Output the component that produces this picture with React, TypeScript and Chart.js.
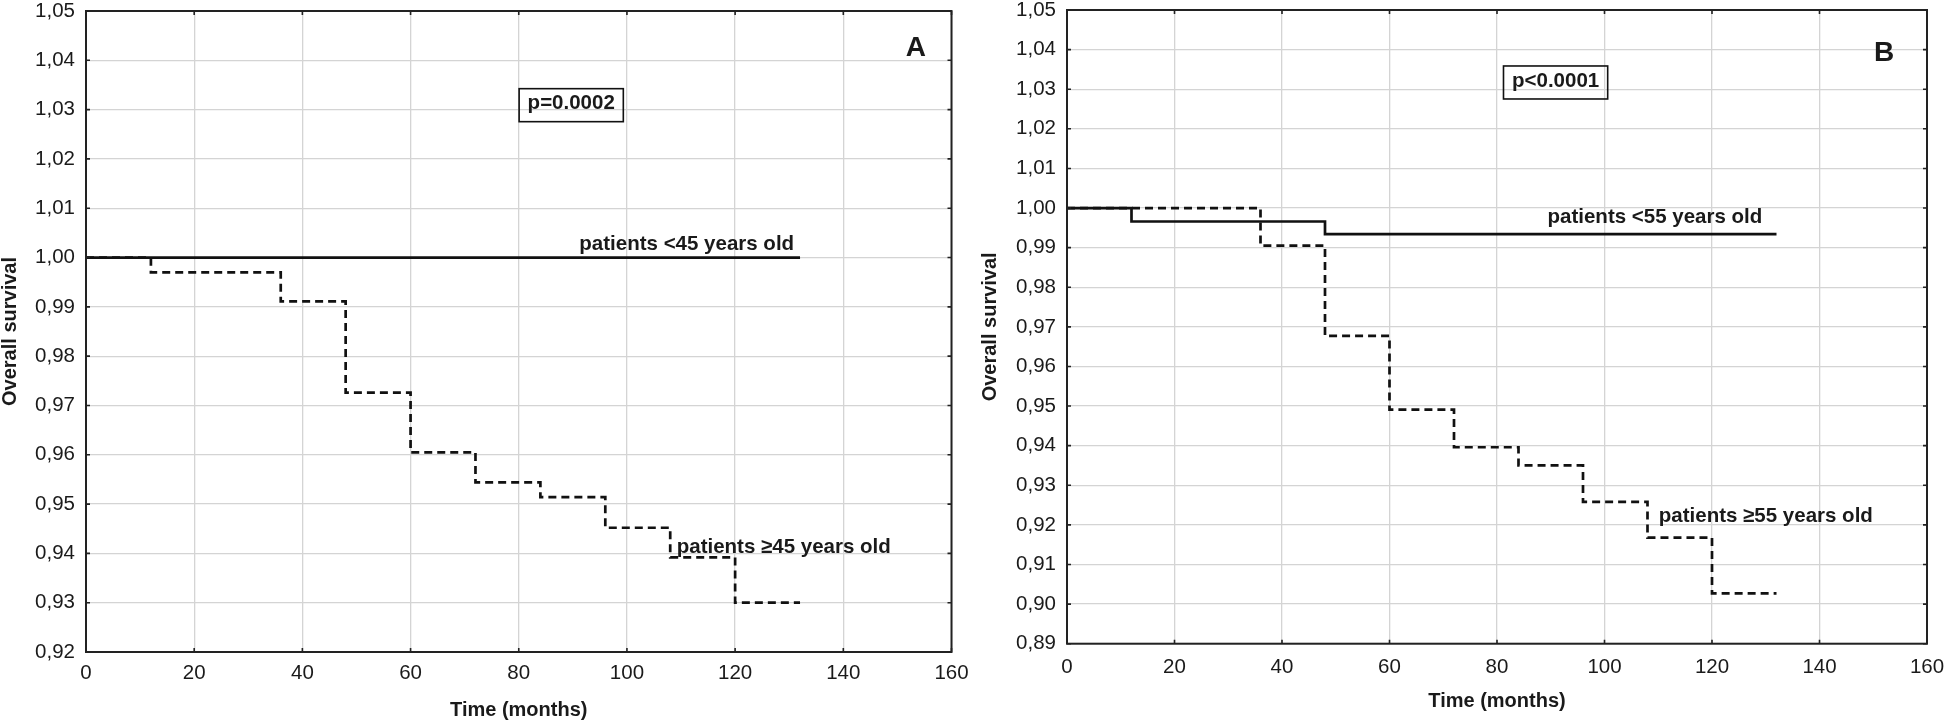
import React, { useEffect, useRef } from 'react';
import { Chart, registerables } from 'chart.js';

Chart.register(...registerables);

// ---------- data ----------
const xTickValues = [0, 20, 40, 60, 80, 100, 120, 140, 160];
const yTickValuesA = [0.92, 0.93, 0.94, 0.95, 0.96, 0.97, 0.98, 0.99, 1.0, 1.01, 1.02, 1.03, 1.04, 1.05];
const yTickValuesB = [0.89, 0.9, 0.91, 0.92, 0.93, 0.94, 0.95, 0.96, 0.97, 0.98, 0.99, 1.0, 1.01, 1.02, 1.03, 1.04, 1.05];

// Panel A: <45 vs >=45 years
const monthsAYoung = [0, 132];
const survAYoung = [1.0, 1.0];
const monthsAOld = [0, 12, 36, 48, 60, 72, 84, 96, 108, 120, 132];
const survAOld = [1.0, 0.997, 0.9911, 0.9726, 0.9605, 0.9544, 0.9514, 0.9452, 0.9392, 0.93, 0.93];

// Panel B: <55 vs >=55 years
const monthsBYoung = [0, 12, 48, 132];
const survBYoung = [1.0, 0.9966, 0.9934, 0.9934];
const monthsBOld = [0, 36, 48, 60, 72, 84, 96, 108, 120, 132];
const survBOld = [1.0, 0.9905, 0.9677, 0.9491, 0.9396, 0.935, 0.9258, 0.9168, 0.9027, 0.9027];

const labelsA = ['patients <45 years old', 'patients \u226545 years old', 'p=0.0002', 'A'];
const labelsB = ['patients <55 years old', 'patients \u226555 years old', 'p<0.0001', 'B'];

const xTitle = 'Time (months)';
const yTitle = 'Overall survival';

const FONT = '"Liberation Sans", Arial, Helvetica, sans-serif';
const INK = '#1a1a1a';

type Note = { text: string; x: number; y: number; align: CanvasTextAlign; size: number; box?: boolean };

const toPts = (xs: number[], ys: number[]) => xs.map((x, i) => ({ x, y: ys[i] }));

const framePlugin = {
  id: 'frame',
  afterDatasetsDraw(chart: any) {
    const { ctx, chartArea } = chart;
    const { left, right, top, bottom } = chartArea;
    const xs = chart.scales.x;
    const ys = chart.scales.y;
    ctx.save();
    ctx.strokeStyle = '#222';
    ctx.lineWidth = 2;
    ctx.strokeRect(left, top, right - left, bottom - top);
    ctx.lineWidth = 1.6;
    ctx.beginPath();
    xs.ticks.forEach((t: any) => {
      const px = xs.getPixelForValue(t.value);
      ctx.moveTo(px, bottom);
      ctx.lineTo(px, bottom - 4);
      ctx.moveTo(px, top);
      ctx.lineTo(px, top + 4);
    });
    ys.ticks.forEach((t: any) => {
      const py = ys.getPixelForValue(t.value);
      ctx.moveTo(left, py);
      ctx.lineTo(left + 4, py);
      ctx.moveTo(right, py);
      ctx.lineTo(right - 4, py);
    });
    ctx.stroke();
    ctx.restore();
  },
};

const notesPlugin = {
  id: 'notes',
  afterDraw(chart: any, _args: any, opts: any) {
    const items: Note[] = (opts && opts.items) || [];
    const { ctx } = chart;
    const xs = chart.scales.x;
    const ys = chart.scales.y;
    ctx.save();
    items.forEach((n) => {
      const px = xs.getPixelForValue(n.x);
      const py = ys.getPixelForValue(n.y);
      ctx.font = `bold ${n.size}px ${FONT}`;
      ctx.fillStyle = INK;
      ctx.textAlign = n.align;
      if (n.box) {
        const w = ctx.measureText(n.text).width;
        const bw = w + 17;
        const bh = 33;
        ctx.strokeStyle = '#111';
        ctx.lineWidth = 1.6;
        ctx.strokeRect(px - bw / 2, py - bh / 2, bw, bh);
        ctx.textBaseline = 'middle';
        ctx.fillText(n.text, px, py - 1.5);
      } else {
        ctx.textBaseline = n.align === 'center' ? 'middle' : 'alphabetic';
        ctx.fillText(n.text, px, py);
      }
    });
    ctx.restore();
  },
};

type PanelSpec = {
  young: { x: number; y: number }[];
  old: { x: number; y: number }[];
  yMin: number;
  yMax: number;
  yTicks: number[];
  padding: { left: number; top: number; right: number; bottom: number };
  yAxisW: number;
  xAxisH: number;
  xTickPad: number;
  xTitlePad: number;
  notes: Note[];
};

function makeConfig(p: PanelSpec): any {
  return {
    type: 'line',
    data: {
      datasets: [
        {
          data: p.young,
          borderColor: '#111',
          borderWidth: 2.7,
          stepped: 'before',
          pointRadius: 0,
          fill: false,
          borderCapStyle: 'butt',
        },
        {
          data: p.old,
          borderColor: '#111',
          borderWidth: 2.7,
          borderDash: [8, 5],
          stepped: 'before',
          pointRadius: 0,
          fill: false,
          borderCapStyle: 'butt',
        },
      ],
    },
    options: {
      animation: false,
      responsive: false,
      devicePixelRatio: 1,
      layout: { padding: p.padding },
      plugins: {
        legend: { display: false },
        tooltip: { enabled: false },
        notes: { items: p.notes },
      },
      scales: {
        x: {
          type: 'linear',
          min: 0,
          max: 160,
          afterBuildTicks: (s: any) => {
            s.ticks = xTickValues.map((v) => ({ value: v }));
          },
          ticks: {
            font: { family: FONT, size: 20.5 },
            color: INK,
            padding: p.xTickPad,
            maxRotation: 0,
            autoSkip: false,
          },
          grid: { color: '#d4d4d4', lineWidth: 1.3, drawTicks: false },
          border: { display: false },
          title: {
            display: true,
            text: xTitle,
            font: { family: FONT, size: 20, weight: 'bold', lineHeight: 1 },
            color: INK,
            padding: { top: 0, bottom: p.xTitlePad },
          },
          afterFit: (s: any) => {
            s.height = p.xAxisH;
            s.paddingLeft = 0;
            s.paddingRight = 0;
          },
        },
        y: {
          type: 'linear',
          min: p.yMin,
          max: p.yMax,
          afterBuildTicks: (s: any) => {
            s.ticks = p.yTicks.map((v) => ({ value: v }));
          },
          ticks: {
            font: { family: FONT, size: 20.5 },
            color: INK,
            padding: 11,
            autoSkip: false,
            callback: (v: any) => Number(v).toFixed(2).replace('.', ','),
          },
          grid: { color: '#d4d4d4', lineWidth: 1.3, drawTicks: false },
          border: { display: false },
          title: {
            display: true,
            text: yTitle,
            font: { family: FONT, size: 20, weight: 'bold', lineHeight: 1 },
            color: INK,
            padding: { top: 0, bottom: 0 },
          },
          afterFit: (s: any) => {
            s.width = p.yAxisW;
            s.paddingTop = 0;
            s.paddingBottom = 0;
          },
        },
      },
    },
    plugins: [framePlugin, notesPlugin],
  };
}

const panelA: PanelSpec = {
  young: toPts(monthsAYoung, survAYoung),
  old: toPts(monthsAOld, survAOld),
  yMin: 0.92,
  yMax: 1.05,
  yTicks: yTickValuesA,
  padding: { left: 0, top: 11, right: 38.5, bottom: 0 },
  yAxisW: 86,
  xAxisH: 71,
  xTickPad: 9.4,
  xTitlePad: 3,
  notes: [
    { text: labelsA[0], x: 91.2, y: 1.0015, align: 'left', size: 20.5 },
    { text: labelsA[1], x: 109.2, y: 0.9401, align: 'left', size: 20.5 },
    { text: labelsA[2], x: 89.7, y: 1.0309, align: 'center', size: 20.5, box: true },
    { text: labelsA[3], x: 153.4, y: 1.0425, align: 'center', size: 28 },
  ],
};

const panelB: PanelSpec = {
  young: toPts(monthsBYoung, survBYoung),
  old: toPts(monthsBOld, survBOld),
  yMin: 0.89,
  yMax: 1.05,
  yTicks: yTickValuesB,
  padding: { left: 20, top: 10, right: 19, bottom: 0 },
  yAxisW: 87,
  xAxisH: 79.3,
  xTickPad: 11.5,
  xTitlePad: 11.5,
  notes: [
    { text: labelsB[0], x: 89.4, y: 0.9963, align: 'left', size: 20.5 },
    { text: labelsB[1], x: 110.1, y: 0.9208, align: 'left', size: 20.5 },
    { text: labelsB[2], x: 90.9, y: 1.0317, align: 'center', size: 20.5, box: true },
    { text: labelsB[3], x: 152, y: 1.0391, align: 'center', size: 28 },
  ],
};

function Panel({ spec, left, width }: { spec: PanelSpec; left: number; width: number }) {
  const ref = useRef<HTMLCanvasElement | null>(null);
  useEffect(() => {
    if (!ref.current) return;
    const chart = new Chart(ref.current, makeConfig(spec));
    return () => chart.destroy();
  }, [spec]);
  return (
    <canvas
      ref={ref}
      width={width}
      height={723}
      style={{ position: 'absolute', left, top: 0, width, height: 723, display: 'block' }}
    />
  );
}

export default function App() {
  return (
    <div
      style={{
        position: 'absolute',
        left: 0,
        top: 0,
        width: 1946,
        height: 723,
        background: '#ffffff',
        overflow: 'hidden',
      }}
    >
      <Panel spec={panelA} left={0} width={990} />
      <Panel spec={panelB} left={960} width={986} />
    </div>
  );
}
